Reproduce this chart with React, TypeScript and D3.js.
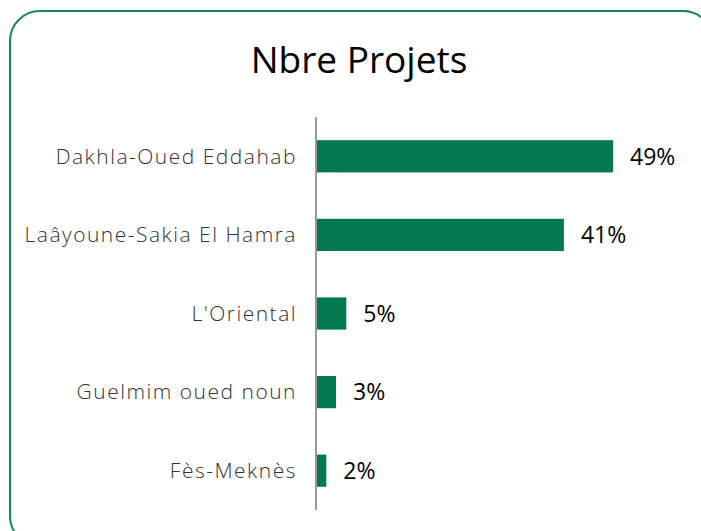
import React from "react";
import * as d3 from "d3";

const regions = [
  "Dakhla-Oued Eddahab",
  "Laâyoune-Sakia El Hamra",
  "L'Oriental",
  "Guelmim oued noun",
  "Fès-Meknès",
];
const shares = [49, 40.9, 5, 3.3, 1.7];

const width = 701;
const height = 531;
const axisX = 316;
const green = "#037a4e";

const App = () => {
  const x = d3.scaleLinear().domain([0, 49]).range([axisX, 613]);
  const y = d3.scaleBand().domain(regions).range([117, 510]).paddingInner(0.59).paddingOuter(0.295);
  const fmt = d3.format(".0f");

  return (
    <svg
      width={width}
      height={height}
      style={{ position: "absolute", left: 0, top: 0, background: "#fff" }}
    >
      <rect x={10} y={11} width={703} height={535} rx={30} fill="none" stroke="#16875a" strokeWidth={2} />
      <text
        x={359}
        y={73}
        textAnchor="middle"
        fontFamily="'Open Sans', sans-serif"
        fontSize={37}
        fill="#000"
      >
        Nbre Projets
      </text>

      {regions.map((r, i) => (
        <g key={r}>
          <rect
            x={axisX}
            y={y(r)}
            width={x(shares[i]) - axisX}
            height={y.bandwidth()}
            fill={green}
          />
          <text
            x={297}
            y={y(r)! + y.bandwidth() / 2}
            dy="0.35em"
            textAnchor="end"
            fontFamily="'Open Sans', sans-serif"
            fontWeight={300}
            fontSize={21}
            letterSpacing={1.5}
            fill="#333"
          >
            {r}
          </text>
          <text
            x={x(shares[i]) + 17}
            y={y(r)! + y.bandwidth() / 2}
            dy="0.36em"
            fontFamily="'Open Sans', sans-serif"
            fontSize={23}
            fill="#000"
          >
            {fmt(shares[i])}%
          </text>
        </g>
      ))}

      <line x1={axisX} x2={axisX} y1={117} y2={510} stroke="#999" strokeWidth={2} />
    </svg>
  );
};

export default App;
